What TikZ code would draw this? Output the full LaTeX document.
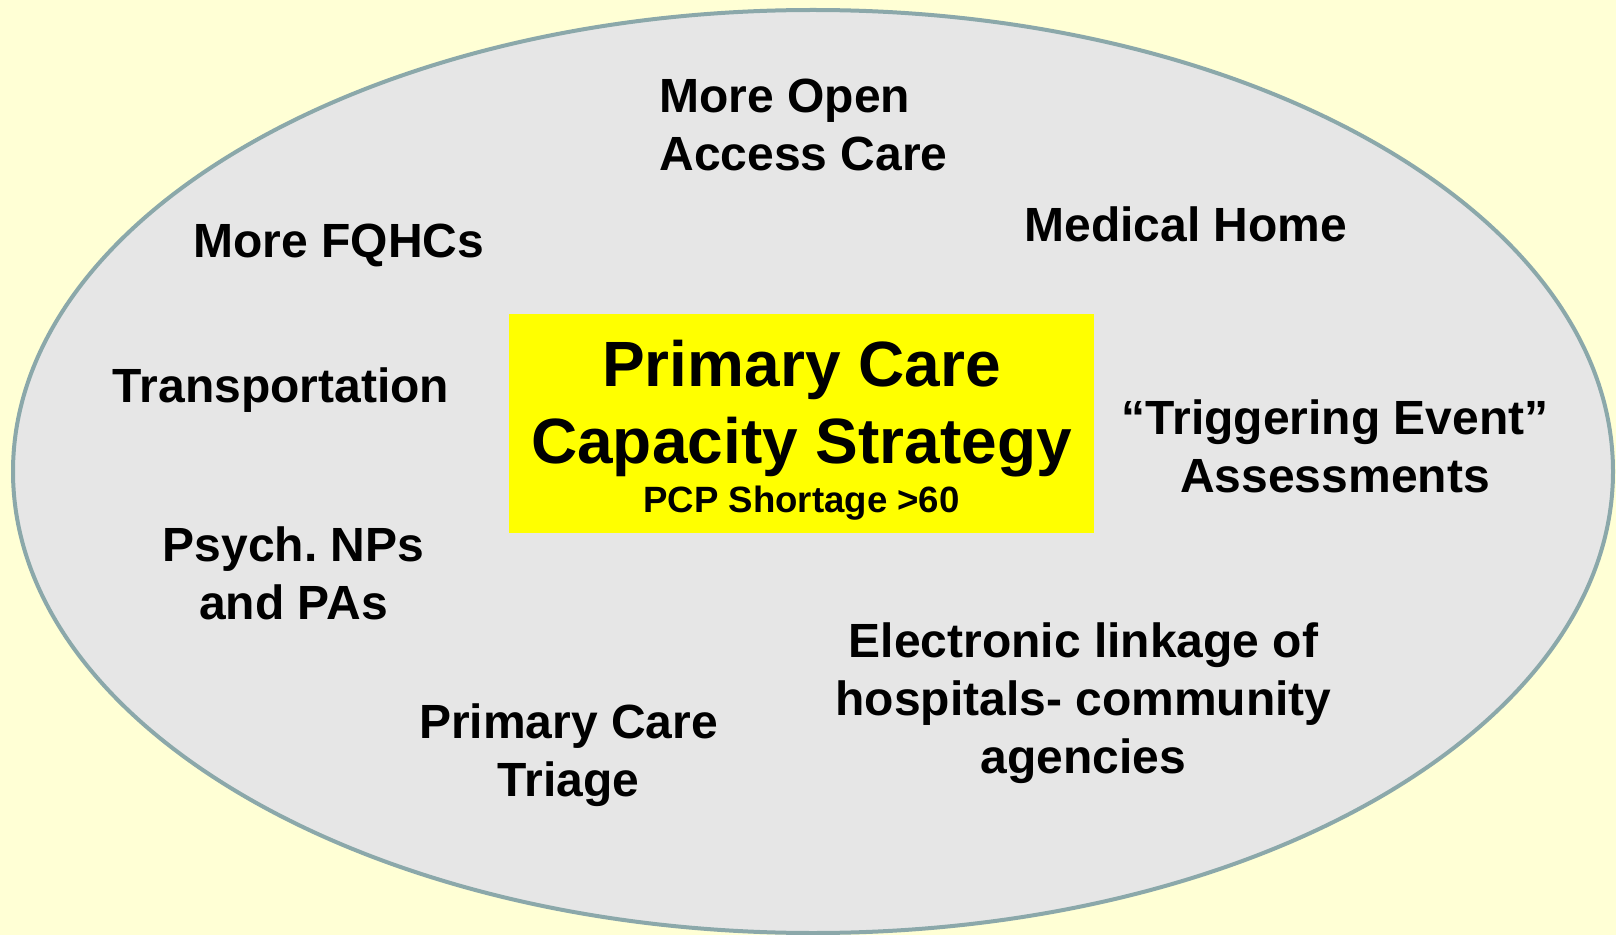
\documentclass[tikz,border=0pt]{standalone}
\usepackage{fontspec}
\setmainfont{Liberation Sans}
\usepackage{tikz}
\usetikzlibrary{positioning}
\definecolor{bgyellow}{HTML}{FFFFD5}
\definecolor{ovalgray}{HTML}{E6E6E6}
\definecolor{ovalrim}{HTML}{8BA8AA}
\definecolor{boxyellow}{HTML}{FFFF00}
\frenchspacing

\begin{document}
\begin{tikzpicture}[x=0.5pt, y=-0.5pt,
    item/.style={font=\fontsize{24}{29}\selectfont\bfseries, align=center, inner sep=0pt, anchor=base},
    capbox/.style={rectangle, fill=boxyellow, inner sep=0pt, minimum width=292.5pt, minimum height=109.5pt}]
    % Background
    \fill [bgyellow] (0,0) rectangle (1616,935);
    \useasboundingbox (0,0) rectangle (1616,935);
    \draw [ovalrim, fill=ovalgray, line width=2pt] (813,471.5) ellipse [x radius=800, y radius=461.5];

    % Centre box
    \node [capbox] (strategy) at (801.5,423.5) {};
    \node [item, font=\fontsize{32}{38.5}\selectfont\bfseries] (title) at (801.5,463) {Primary Care\\Capacity Strategy};
    \node [item, font=\fontsize{18.3}{22}\selectfont\bfseries] (shortage) at (801.5,512) {PCP Shortage >60};

    % Strategies round the box
    \node [item, align=left, anchor=base west] (openaccess) at (659,171) {More Open\\Access Care};
    \node [item] (fqhc) at (339,258) {More FQHCs};
    \node [item] (medhome) at (1186,242) {Medical Home};
    \node [item] (transport) at (281,402) {Transportation};
    \node [item] (trigger) at (1335,492) {“Triggering Event”\\Assessments};
    \node [item] (psych) at (293.5,619) {Psych. NPs\\and PAs};
    \node [item] (triage) at (568.5,796) {Primary Care\\Triage};
    \node [item] (linkage) at (1083.5,773) {Electronic linkage of\\hospitals- community\\agencies};
\end{tikzpicture}
\end{document}
